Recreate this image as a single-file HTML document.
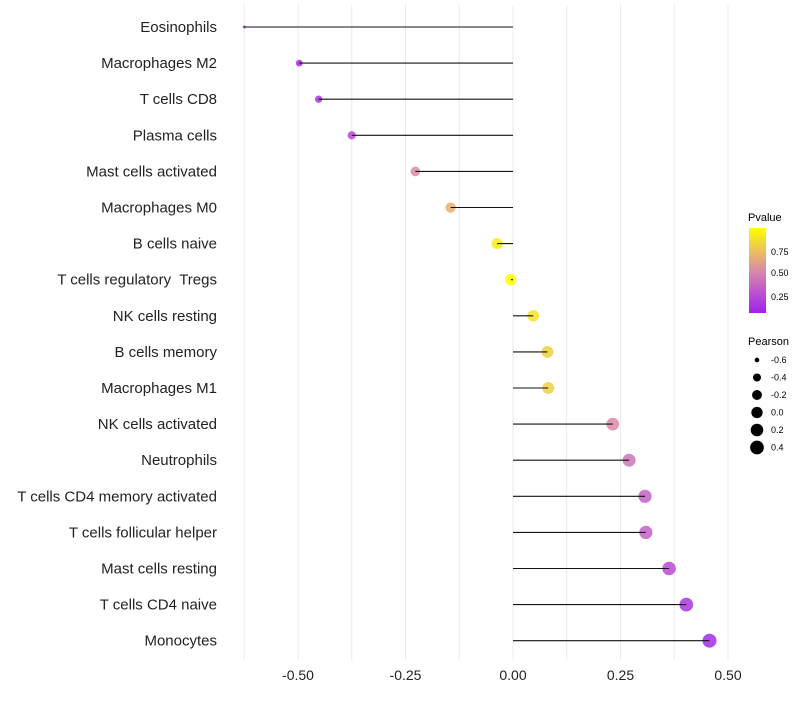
<!DOCTYPE html>
<html><head><meta charset="utf-8"><style>
body{margin:0;background:#fff;}
svg text{font-family:"Liberation Sans",sans-serif;white-space:pre;}
</style></head><body>
<svg id="c" width="800" height="700" xmlns="http://www.w3.org/2000/svg">
<defs><linearGradient id="pg" x1="0" y1="1" x2="0" y2="0">
<stop offset="0" stop-color="#a020f0"/><stop offset="0.5" stop-color="#d98aa8"/><stop offset="1" stop-color="#ffff00"/>
</linearGradient></defs>
<g id="grid"></g><g id="marks"></g><g id="labels"></g>
<g>
<text x="748" y="221" font-size="11">Pvalue</text>
<rect x="749" y="228" width="17" height="85" fill="url(#pg)"/>
<text x="771" y="255" font-size="9">0.75</text>
<text x="771" y="276" font-size="9">0.50</text>
<text x="771" y="300" font-size="9">0.25</text>
</g>
<g id="sizeleg">
<text x="748" y="345" font-size="11">Pearson</text>
</g>
</svg>
<script>
const categories=["Eosinophils","Macrophages M2","T cells CD8","Plasma cells","Mast cells activated","Macrophages M0","B cells naive","T cells regulatory  Tregs","NK cells resting","B cells memory","Macrophages M1","NK cells activated","Neutrophils","T cells CD4 memory activated","T cells follicular helper","Mast cells resting","T cells CD4 naive","Monocytes"];
const pearson=[-0.625,-0.497,-0.452,-0.375,-0.227,-0.145,-0.037,-0.005,0.047,0.080,0.082,0.232,0.270,0.307,0.309,0.363,0.403,0.457];
const pvalue=[0.02,0.05,0.1,0.2,0.5,0.66,0.92,1.0,0.88,0.8,0.8,0.5,0.4,0.3,0.3,0.2,0.1,0.05];
const xTicks=[-0.5,-0.25,0,0.25,0.5];
const xTickLabels=["-0.50","-0.25","0.00","0.25","0.50"];
const sizeLegend=[-0.6,-0.4,-0.2,0.0,0.2,0.4];
const sizeLegendLabels=["-0.6","-0.4","-0.2","0.0","0.2","0.4"];
const NS="http://www.w3.org/2000/svg";
const x=v=>513+v*430;
const y=i=>27+i*36.1;
const r=v=>1.5+5.5*Math.sqrt(Math.max(0,(v+0.625)/1.085));
function lerp(a,b,t){return a.map((c,i)=>Math.round(c+(b[i]-c)*t));}
function col(p){const s0=[160,32,240],s1=[217,138,168],s2=[255,255,0];
 const c=p<0.5?lerp(s0,s1,p/0.5):lerp(s1,s2,(p-0.5)/0.5);return `rgb(${c.join(',')})`;}
function mk(t,a,parent){const e=document.createElementNS(NS,t);for(const k in a)e.setAttribute(k,a[k]);parent.appendChild(e);return e;}
const grid=document.getElementById('grid'),marks=document.getElementById('marks'),labels=document.getElementById('labels');
for(let v=-0.625;v<=0.5001;v+=0.125){const l=mk('line',{x1:x(v),x2:x(v),y1:5,y2:660,stroke:'#ebebeb','stroke-width':1},grid);

}
xTicks.forEach((v,i)=>{const t=mk('text',{x:x(v),y:680,'font-size':14,'text-anchor':'middle',fill:'#222'},labels);t.textContent=xTickLabels[i];

});
categories.forEach((c,i)=>{
 const t=mk('text',{x:217,y:y(i)+5,'font-size':15,'text-anchor':'end',fill:'#222'},labels);t.textContent=c;
 
 
 const p=mk('circle',{cx:x(pearson[i]),cy:y(i),r:r(pearson[i]),fill:col(pvalue[i]),'fill-opacity':0.85},marks);
 
 
 const s=mk('line',{x1:x(0),x2:x(pearson[i]),y1:y(i),y2:y(i),stroke:'#111','stroke-width':1.1},marks);
 
 
});
const sl=document.getElementById('sizeleg');
sizeLegend.forEach((v,i)=>{const cy=360+i*17.5;
 const c=mk('circle',{cx:757,cy:cy,r:r(v),fill:'#000'},sl);
 
 
 const t=mk('text',{x:771,y:cy+3,'font-size':9},sl);t.textContent=sizeLegendLabels[i];
 
 });
</script>
</body></html>
